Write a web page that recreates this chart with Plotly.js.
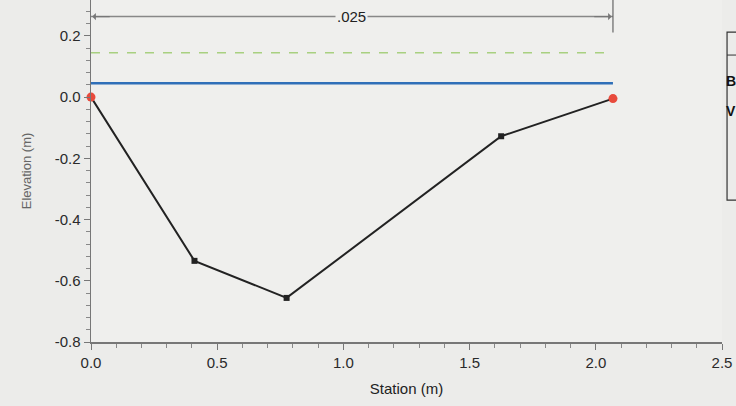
<!DOCTYPE html>
<html><head><meta charset="utf-8">
<script src="https://cdn.plot.ly/plotly-3.0.1.min.js"></script>
<style>html,body{margin:0;padding:0;background:#ececea;}#c{width:736px;height:406px;}</style>
</head><body><div id="c"></div>
<script>
const station = [0.0, 0.41, 0.775, 1.625, 2.068];
const elevation = [0.0, -0.535, -0.656, -0.128, -0.005];
const bankfullElev = 0.145;
const waterElev = 0.045;
const dimensionElev = 0.263;
const dimensionLabel = ".025";
const legendLabels = ["B", "V"];
const xTickVals = [0, 0.5, 1.0, 1.5, 2.0, 2.5];
const xTickText = ["0.0", "0.5", "1.0", "1.5", "2.0", "2.5"];
const yTickVals = [-0.8, -0.6, -0.4, -0.2, 0.0, 0.2];
const yTickText = ["-0.8", "-0.6", "-0.4", "-0.2", "0.0", "0.2"];

const xEnd = station[station.length - 1];
const ends = [0, station.length - 1];

const traces = [
  {x:[station[0], xEnd], y:[bankfullElev, bankfullElev], mode:'lines', line:{color:'#a8d080', width:1.5, dash:'dash'}, hoverinfo:'skip'},
  {x:[station[0], xEnd], y:[waterElev, waterElev], mode:'lines', line:{color:'#2f6fb8', width:2.5}, hoverinfo:'skip'},
  {x:station, y:elevation, mode:'lines+markers', line:{color:'#222', width:2}, marker:{symbol:'square', size:6, color:'#222'}, cliponaxis:false},
  {x:ends.map(i=>station[i]), y:ends.map(i=>elevation[i]), mode:'markers', marker:{symbol:'circle', size:9, color:'#e84a3c'}, cliponaxis:false}
];

const tickFont = {family:'Arial, Liberation Sans, sans-serif', size:15, color:'#2a2a2a'};
const layout = {
  width:736, height:406,
  margin:{l:91, r:14, t:0, b:64},
  paper_bgcolor:'#ececea', plot_bgcolor:'#efefed',
  showlegend:false,
  xaxis:{range:[0,2.5], tickvals:xTickVals, ticktext:xTickText, showgrid:false, zeroline:false, showline:true, linecolor:'#777', linewidth:1.5,
    ticks:'outside', ticklen:6, tickcolor:'#777', tickfont:tickFont,
    minor:{dtick:0.1, ticks:'outside', ticklen:4, tickcolor:'#888'},
    title:{text:'Station (m)', font:{family:'Arial, Liberation Sans, sans-serif', size:15, color:'#222'}, standoff:14}},
  yaxis:{range:[-0.8,0.317], tickvals:yTickVals, ticktext:yTickText, showgrid:false, zeroline:false, showline:true, linecolor:'#777', linewidth:1.5,
    ticks:'outside', ticklen:6, tickcolor:'#777', tickfont:tickFont,
    minor:{dtick:0.04, ticks:'outside', ticklen:4, tickcolor:'#888'},
    title:{text:'Elevation (m)', font:{family:'Arial, Liberation Sans, sans-serif', size:13, color:'#666'}, standoff:20}},
  shapes:[
    {type:'line', xref:'x', yref:'y', x0:station[0], x1:xEnd, y0:dimensionElev, y1:dimensionElev, line:{color:'#888', width:1.5}},
    {type:'line', xref:'x', yref:'paper', x0:xEnd, x1:xEnd, y0:0.905, y1:1.0, line:{color:'#666', width:1.2}},
    {type:'rect', xref:'paper', yref:'paper', x0:1.008, x1:1.2, y0:0.415, y1:0.906, line:{color:'#333', width:1.2}, fillcolor:'rgba(0,0,0,0)'},
    {type:'line', xref:'paper', yref:'paper', x0:1.008, x1:1.2, y0:0.839, y1:0.839, line:{color:'#333', width:1}}
  ],
  annotations:[
    {x:(station[0]+xEnd)/2, y:dimensionElev, xref:'x', yref:'y', text:dimensionLabel, showarrow:false, bgcolor:'#efefed', font:{family:'Arial, Liberation Sans, sans-serif', size:15, color:'#222'}},
    {x:station[0]+0.005, y:dimensionElev, ax:station[0]+0.08, ay:dimensionElev, xref:'x', yref:'y', axref:'x', ayref:'y', text:'', showarrow:true, arrowhead:1, arrowsize:1, arrowwidth:1.2, arrowcolor:'#777'},
    {x:xEnd-0.005, y:dimensionElev, ax:xEnd-0.08, ay:dimensionElev, xref:'x', yref:'y', axref:'x', ayref:'y', text:'', showarrow:true, arrowhead:1, arrowsize:1, arrowwidth:1.2, arrowcolor:'#777'},
    {x:1.0055, y:0.762, xref:'paper', yref:'paper', xanchor:'left', yanchor:'middle', borderpad:0, text:legendLabels[0], showarrow:false, font:{family:'Liberation Sans, Arial, sans-serif', size:14, color:'#111', weight:'bold'}},
    {x:1.0055, y:0.675, xref:'paper', yref:'paper', xanchor:'left', yanchor:'middle', borderpad:0, text:legendLabels[1], showarrow:false, font:{family:'Liberation Sans, Arial, sans-serif', size:14, color:'#111', weight:'bold'}}
  ]
};
Plotly.newPlot('c', traces, layout, {staticPlot:true, displayModeBar:false});
</script></body></html>
